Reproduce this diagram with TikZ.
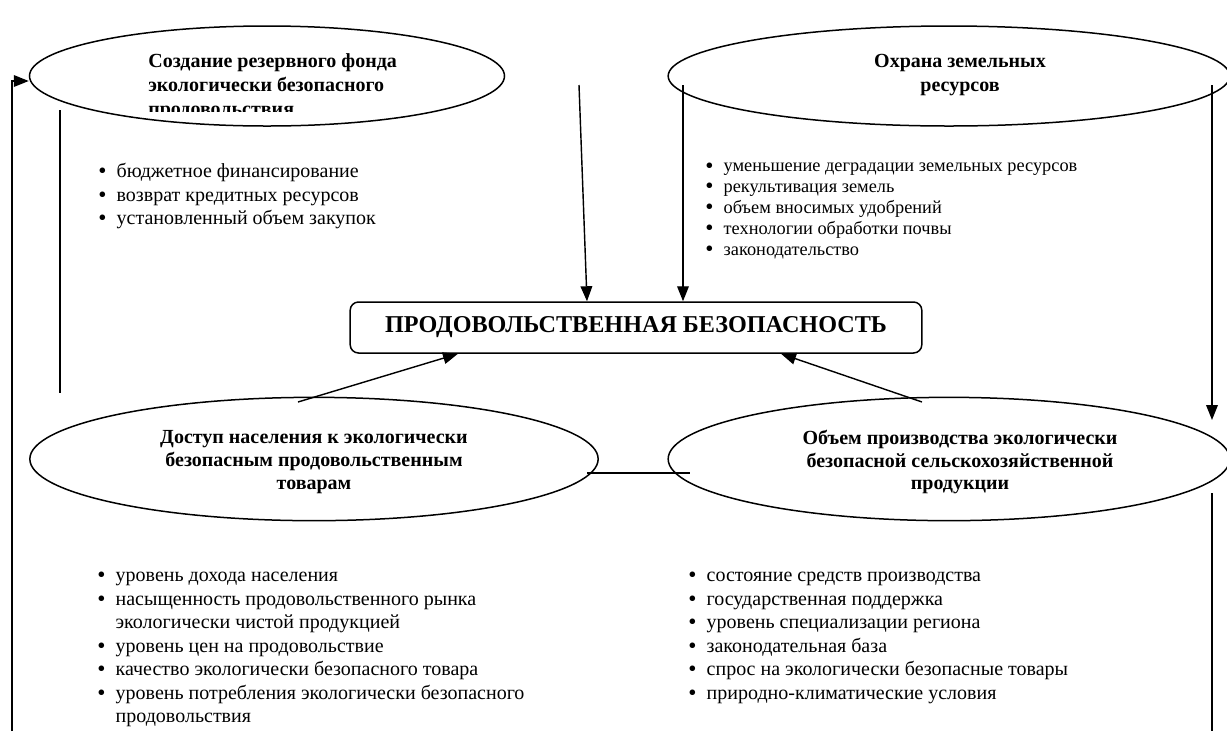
\documentclass[tikz,border=0pt]{standalone}
\usepackage{fontspec}
\setmainfont{Liberation Serif}
\usetikzlibrary{shapes.geometric,arrows.meta}
\newcommand{\bul}{\makebox[11pt][l]{\raisebox{-0.7pt}[0pt][0pt]{\fontsize{14}{14}\selectfont •}}}
\newcommand{\ind}{\hspace*{11pt}}
\begin{document}
\begin{tikzpicture}[x=0.6pt,y=-0.6pt,
  ell/.style={draw,ellipse,line width=0.9pt,inner sep=0pt},
  arr/.style={-{Triangle[length=9pt,width=7pt]},line width=0.85pt},
  ln/.style={line width=0.85pt},
  head/.style={font=\bfseries\fontsize{12}{14.4}\selectfont,align=center,inner sep=0pt},
  headb/.style={font=\bfseries\fontsize{12}{13.6}\selectfont,align=center,inner sep=0pt},
  lst/.style={font=\fontsize{12}{14.1}\selectfont,align=left,anchor=north west,inner sep=0pt},
  lsts/.style={font=\fontsize{11}{12.5}\selectfont,align=left,anchor=north west,inner sep=0pt},
]
\useasboundingbox (0,0) rectangle (1227,731);
% ellipses
\node[ell,minimum width=285pt,minimum height=60pt] (tlE) at (267,76) {};
\node[ell,minimum width=337pt,minimum height=60pt] (trE) at (949,76) {};
\node[ell,minimum width=341pt,minimum height=74pt] (blE) at (314,459) {};
\node[ell,minimum width=337pt,minimum height=74pt] (brE) at (949,459) {};
% central box
\node[draw,rounded corners=5pt,line width=0.9pt,minimum width=343pt,minimum height=30.6pt,
  font=\bfseries\fontsize{14.5}{16}\selectfont] (fs) at (636,327.5) {ПРОДОВОЛЬСТВЕННАЯ БЕЗОПАСНОСТЬ};
% ellipse texts
\begin{scope}
\clip (100,30) rectangle (460,111);
\node[head,align=left,anchor=north west] (tlT) at (148,53) {Создание резервного фонда\\экологически безопасного\\продовольствия};
\end{scope}
\node[head] (trT) at (960,75) {Охрана земельных\\ресурсов};
\node[headb] (blT) at (314,462) {Доступ населения к экологически\\безопасным продовольственным\\товарам};
\node[headb] (brT) at (960,462) {Объем производства экологически\\безопасной сельскохозяйственной\\продукции};
% lists
\node[lst] (tlL) at (98,163) {\bul бюджетное финансирование\\\bul возврат кредитных ресурсов\\\bul установленный объем закупок};
\node[lsts] (trL) at (705,163) {\bul уменьшение деградации земельных ресурсов\\\bul рекультивация земель\\\bul объем вносимых удобрений\\\bul технологии обработки почвы\\\bul законодательство};
\node[lst] (blL) at (97,572) {\bul уровень дохода населения\\\bul насыщенность продовольственного рынка\\\ind экологически чистой продукцией\\\bul уровень цен на продовольствие\\\bul качество экологически безопасного товара\\\bul уровень потребления экологически безопасного\\\ind продовольствия};
\node[lst] (brL) at (688,572) {\bul состояние средств производства\\\bul государственная поддержка\\\bul уровень специализации региона\\\bul законодательная база\\\bul спрос на экологически безопасные товары\\\bul природно-климатические условия};
% connectors
\coordinate (lb) at (12,731);
\coordinate (l1) at (60,110);
\coordinate (l2) at (60,393);
\coordinate (a1) at (579,85);
\coordinate (t0) at (587,0);
\coordinate (a2) at (683,85);
\coordinate (r1) at (1212,85);
\coordinate (r3) at (1212,420);
\coordinate (r2) at (1212,493);
\coordinate (rb) at (1212,731);
\coordinate (b1) at (298,402);
\coordinate (t1) at (458,0);
\coordinate (b2) at (922,402);
\coordinate (t2) at (781,0);
\coordinate (h1) at (587,473);
\coordinate (h2) at (690,473);
\draw[arr] (lb) |- ([yshift=-3pt]tlE.west);
\draw[ln] (l1) -- (l2);
\draw[arr] (a1) -- (t0 |- fs.north);
\draw[arr] (a2) -- (a2 |- fs.north);
\draw[arr] (r1) -- (r3);
\draw[ln] (r2) -- (rb);
\draw[arr] (b1) -- (t1 |- fs.south);
\draw[arr] (b2) -- (t2 |- fs.south);
\draw[ln] (h1) -- (h2);
\end{tikzpicture}
\end{document}
